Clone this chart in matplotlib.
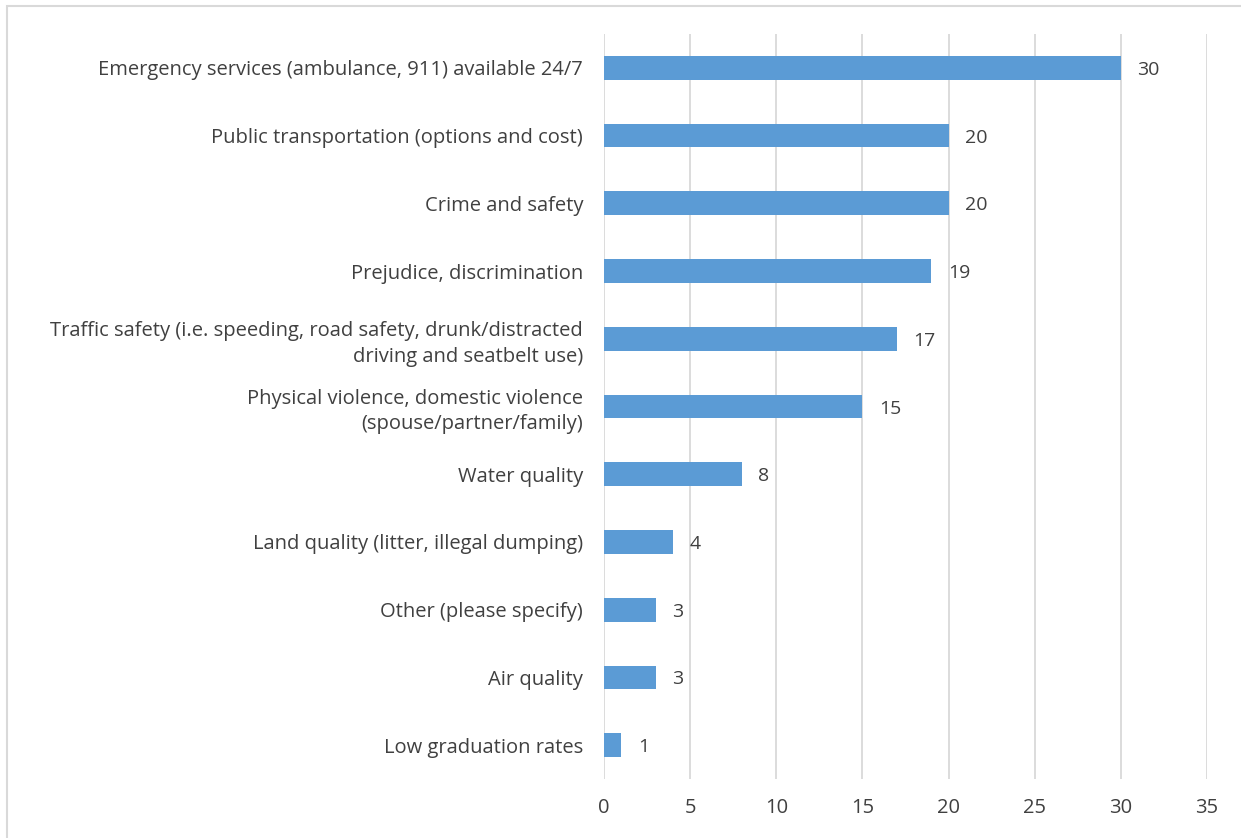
import matplotlib
matplotlib.use("Agg")
import matplotlib.pyplot as plt
from matplotlib.patches import Rectangle

categories = [
    "Emergency services (ambulance, 911) available 24/7",
    "Public transportation (options and cost)",
    "Crime and safety",
    "Prejudice, discrimination",
    "Traffic safety (i.e. speeding, road safety, drunk/distracted\ndriving and seatbelt use)",
    "Physical violence, domestic violence\n(spouse/partner/family)",
    "Water quality",
    "Land quality (litter, illegal dumping)",
    "Other (please specify)",
    "Air quality",
    "Low graduation rates",
]
values = [30, 20, 20, 19, 17, 15, 8, 4, 3, 3, 1]
xticks = [0, 5, 10, 15, 20, 25, 30, 35]

plt.rcParams['font.family'] = ['Open Sans', 'DejaVu Sans']
W, H = 1241, 838
fig = plt.figure(figsize=(W / 100, H / 100), dpi=100)
ax = fig.add_axes([604 / W, 1 - 779 / H, (1207 - 604) / W, (779 - 34) / H])

n = len(categories)
ypos = list(range(n))
ax.barh(ypos, values, height=0.35, color="#5B9BD5", zorder=3)
ax.set_ylim(n - 0.5, -0.5)
ax.set_xlim(0, 35)
ax.set_xticks(xticks)
ax.set_xticklabels([str(t) for t in xticks])
ax.set_yticks(ypos)
ax.set_yticklabels(categories, ha="right", multialignment="right", linespacing=1.35)
ax.tick_params(axis="both", length=0, labelsize=14.5, labelcolor="#404040")
ax.tick_params(axis="y", pad=15)
ax.tick_params(axis="x", pad=14)
ax.grid(axis="x", color="#d9d9d9", linewidth=1.3, zorder=0)
for s in ax.spines.values():
    s.set_visible(False)

for y, v in zip(ypos, values):
    ax.annotate(str(v), (v, y), xytext=(12, 0), textcoords="offset points",
                va="center_baseline", ha="left", fontsize=14, color="#404040")

fig.patches.append(Rectangle((7 / W, -0.1), 1.1, 1 - 6 / H + 0.1,
                             transform=fig.transFigure, fill=False,
                             edgecolor="#d9d9d9", linewidth=1.5))

fig.savefig("out.png", dpi=100, facecolor="white")
